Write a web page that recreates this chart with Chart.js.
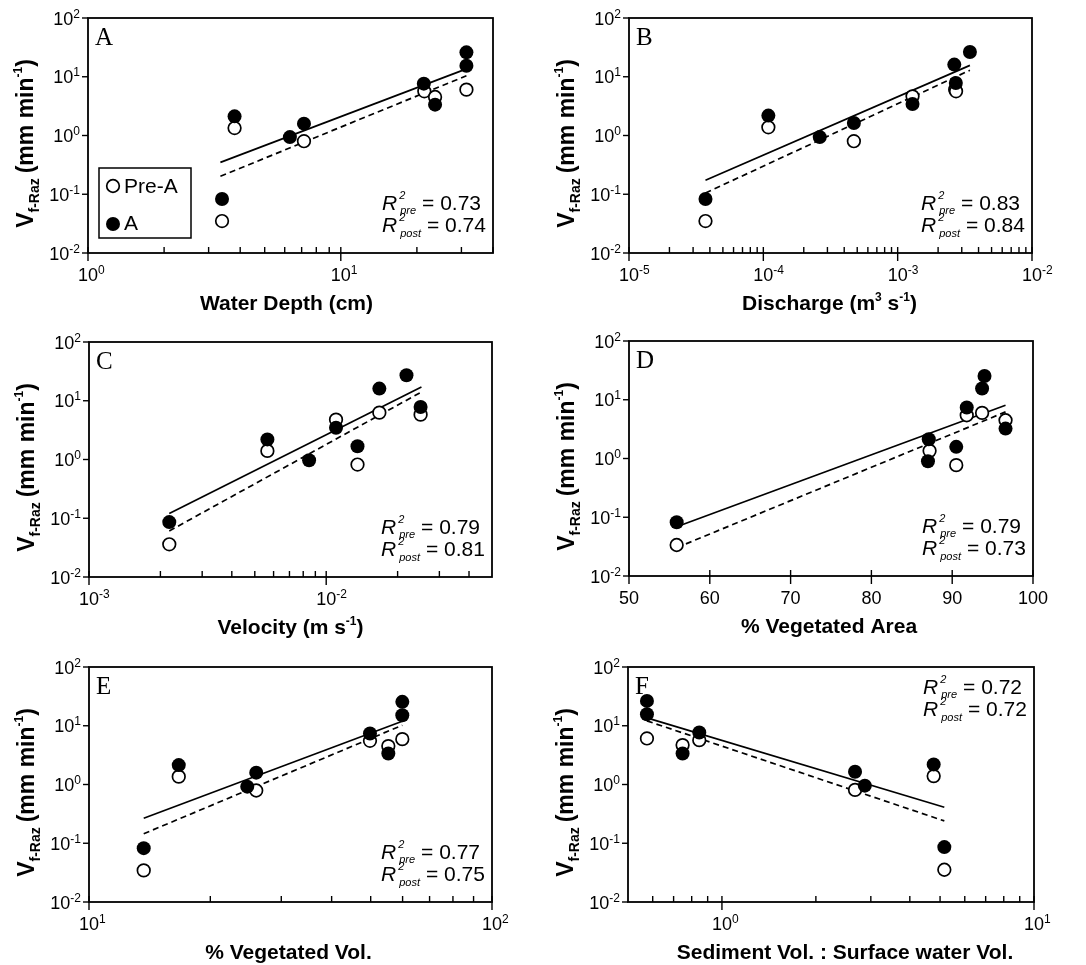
<!DOCTYPE html>
<html><head><meta charset="utf-8">
<script src="https://cdn.jsdelivr.net/npm/chart.js@4.4.1/dist/chart.umd.min.js"></script>
<style>
html,body{margin:0;padding:0;background:#fff;}
#wrap{position:relative;width:1086px;height:965px;overflow:hidden;background:#fff;}
#wrap canvas{position:absolute;}
</style></head><body><div id="wrap">
<canvas id="cA" width="543" height="320" style="left:0px;top:0px"></canvas>
<canvas id="cB" width="543" height="320" style="left:543px;top:0px"></canvas>
<canvas id="cC" width="543" height="320" style="left:0px;top:320px"></canvas>
<canvas id="cD" width="543" height="320" style="left:543px;top:320px"></canvas>
<canvas id="cE" width="543" height="325" style="left:0px;top:640px"></canvas>
<canvas id="cF" width="543" height="325" style="left:543px;top:640px"></canvas>
</div>
<script>
// ---------------- DATA ----------------
// Y axis (all panels): V f-Raz (mm/min)
const yTicks = [0.01, 0.1, 1, 10, 100];
const yTickExp = ['-2', '-1', '0', '1', '2'];

// Panel A: Water depth (cm)
const A_postX = [3.39, 3.80, 6.29, 7.15, 21.3, 23.6, 31.4, 31.4];
const A_postY = [0.083, 2.12, 0.94, 1.59, 7.63, 3.35, 15.4, 26.0];
const A_preX = [3.39, 3.80, 7.15, 21.4, 23.6, 31.4];
const A_preY = [0.035, 1.34, 0.80, 5.65, 4.52, 6.03];
const A_fitX = [3.34, 31.4];
const A_postFitY = [0.349, 13.6];
const A_preFitY = [0.202, 10.4];
const A_xTicks = [1, 10];
const A_xTickExp = ['0', '1'];
const A_xMinor = [2, 3, 4, 5, 6, 7, 8, 9, 20, 30, 40];
const A_r2 = ['0.73', '0.74'];

// Panel B: Discharge (m3/s)
const B_postX = [3.71e-5, 1.09e-4, 2.63e-4, 4.72e-4, 1.29e-3, 2.64e-3, 2.71e-3, 3.45e-3];
const B_postY = [0.083, 2.18, 0.94, 1.63, 3.44, 16.1, 7.83, 26.4];
const B_preX = [3.71e-5, 1.09e-4, 4.72e-4, 1.29e-3, 2.68e-3, 2.72e-3];
const B_preY = [0.035, 1.38, 0.80, 4.64, 6.03, 5.65];
const B_fitX = [3.71e-5, 3.45e-3];
const B_postFitY = [0.173, 15.6];
const B_preFitY = [0.105, 12.9];
const B_xTicks = [1e-5, 1e-4, 1e-3, 1e-2];
const B_xTickExp = ['-5', '-4', '-3', '-2'];
const B_xMinor = [2e-5,3e-5,4e-5,5e-5,6e-5,7e-5,8e-5,9e-5,2e-4,3e-4,4e-4,5e-4,6e-4,7e-4,8e-4,9e-4,2e-3,3e-3,4e-3,5e-3,6e-3,7e-3,8e-3,9e-3];
const B_r2 = ['0.83', '0.84'];

// Panel C: Velocity (m/s)
const C_postX = [2.18e-3, 5.65e-3, 8.47e-3, 1.10e-2, 1.355e-2, 1.675e-2, 2.18e-2, 2.50e-2];
const C_postY = [0.086, 2.20, 0.97, 3.48, 1.68, 16.1, 27.1, 7.83];
const C_preX = [2.18e-3, 5.65e-3, 1.10e-2, 1.355e-2, 1.675e-2, 2.50e-2];
const C_preY = [0.036, 1.40, 4.77, 0.82, 6.27, 5.80];
const C_fitX = [2.18e-3, 2.52e-2];
const C_postFitY = [0.120, 17.1];
const C_preFitY = [0.0607, 14.1];
const C_xTicks = [1e-3, 1e-2];
const C_xTickExp = ['-3', '-2'];
const C_xMinor = [2e-3,3e-3,4e-3,5e-3,6e-3,7e-3,8e-3,9e-3,2e-2,3e-2,4e-2];
const C_r2 = ['0.79', '0.81'];

// Panel D: % vegetated area
const D_postX = [55.9, 87.1, 87.0, 90.5, 91.8, 93.7, 94.0, 96.6];
const D_postY = [0.082, 2.13, 0.90, 1.58, 7.36, 15.5, 25.4, 3.23];
const D_preX = [55.9, 87.2, 90.5, 91.8, 93.7, 96.6];
const D_preY = [0.0337, 1.35, 0.77, 5.45, 5.97, 4.48];
const D_fitX = [55.9, 96.6];
const D_postFitY = [0.069, 8.07];
const D_preFitY = [0.0303, 6.21];
const D_xTicks = [50, 60, 70, 80, 90, 100];
const D_xTickLabels = ['50', '60', '70', '80', '90', '100'];
const D_r2 = ['0.79', '0.73'];

// Panel E: % vegetated volume
const E_postX = [13.67, 16.7, 24.7, 26.0, 49.8, 55.3, 59.9, 59.9];
const E_postY = [0.0826, 2.14, 0.92, 1.59, 7.39, 3.38, 15.1, 25.5];
const E_preX = [13.67, 16.7, 26.0, 49.8, 55.3, 59.9];
const E_preY = [0.0345, 1.36, 0.79, 5.55, 4.50, 5.92];
const E_fitX = [13.67, 59.9];
const E_postFitY = [0.267, 11.9];
const E_preFitY = [0.145, 10.2];
const E_xTicks = [10, 100];
const E_xTickExp = ['1', '2'];
const E_xMinor = [20, 30, 40, 50, 60, 70, 80, 90];
const E_r2 = ['0.77', '0.75'];

// Panel F: Sediment vol. : surface water vol.
const F_postX = [0.575, 0.575, 0.748, 0.846, 2.67, 2.87, 4.77, 5.16];
const F_postY = [26.5, 15.7, 3.38, 7.68, 1.65, 0.955, 2.20, 0.086];
const F_preX = [0.575, 0.748, 0.846, 2.67, 4.77, 5.16];
const F_preY = [6.08, 4.68, 5.69, 0.81, 1.39, 0.0354];
const F_fitX = [0.575, 5.16];
const F_postFitY = [13.6, 0.41];
const F_preFitY = [12.1, 0.24];
const F_xTicks = [1, 10];
const F_xTickExp = ['0', '1'];
const F_xMinor = [0.6, 0.7, 0.8, 0.9, 2, 3, 4, 5, 6, 7, 8, 9];
const F_r2 = ['0.72', '0.72'];

const legendLabels = ['Pre-A', 'A'];

// ---------------- DRAWING ----------------
const FONT = '"Liberation Sans", Arial, Helvetica, sans-serif';
const SERIF = '"Liberation Serif", "Times New Roman", Times, serif';
const TICK = '18px ' + FONT;
const EXP = '12px ' + FONT;
const XT = 'bold 21px ' + FONT;
const XS = 'bold 12px ' + FONT;

function partWidth(ctx, p) {
  if (p.stack) {
    let m = 0;
    for (const s of p.stack) { ctx.font = s.font; m = Math.max(m, ctx.measureText(s.t).width + (s.dx || 0)); }
    return m + (p.gap || 0);
  }
  ctx.font = p.font;
  return ctx.measureText(p.t).width + (p.gap || 0);
}
function drawRich(ctx, parts, x, y, align) {
  const w = parts.reduce((s, p) => s + partWidth(ctx, p), 0);
  let cx = align === 'center' ? x - w / 2 : align === 'right' ? x - w : x;
  for (const p of parts) {
    const pw = partWidth(ctx, p);
    if (p.stack) {
      for (const s of p.stack) { ctx.font = s.font; ctx.fillText(s.t, cx + (s.dx || 0), y + (s.dy || 0)); }
    } else {
      ctx.font = p.font; ctx.fillText(p.t, cx, y + (p.dy || 0));
    }
    cx += pw;
  }
  return w;
}
function seg(ctx, x1, y1, x2, y2) { ctx.beginPath(); ctx.moveTo(x1, y1); ctx.lineTo(x2, y2); ctx.stroke(); }

function makeDeco(p) {
  return {
    id: 'deco' + p.letter,
    afterDraw(chart) {
      const ctx = chart.ctx, a = chart.chartArea, xs = chart.scales.x, ys = chart.scales.y;
      ctx.save();
      ctx.fillStyle = '#000'; ctx.strokeStyle = '#000';
      ctx.textAlign = 'left'; ctx.textBaseline = 'alphabetic';
      ctx.setLineDash([]);
      // frame
      ctx.lineWidth = 1.8;
      ctx.strokeRect(a.left, a.top, a.right - a.left, a.bottom - a.top);
      ctx.lineWidth = 1.4;
      // y ticks + labels
      yTicks.forEach((v, i) => {
        const y = ys.getPixelForValue(v);
        seg(ctx, a.left - 6, y, a.left, y);
        drawRich(ctx, [{ t: '10', font: TICK }, { t: yTickExp[i], font: EXP, dy: -7 }], a.left - 8, y + 6.5, 'right');
      });
      // x major ticks + labels
      p.xMajor.forEach((v, i) => {
        const x = xs.getPixelForValue(v);
        seg(ctx, x, a.bottom - 6, x, a.bottom + 8);
        if (p.xLabels) {
          ctx.font = TICK; ctx.textAlign = 'center';
          ctx.fillText(p.xLabels[i], x, a.bottom + 28);
          ctx.textAlign = 'left';
        } else {
          ctx.font = TICK;
          const w = ctx.measureText('10').width;
          drawRich(ctx, [{ t: '10', font: TICK }, { t: p.xExp[i], font: EXP, dy: -7 }], x - w / 2, a.bottom + 28, 'left');
        }
      });
      // x minor ticks (inward)
      (p.xMinor || []).forEach(v => {
        const x = xs.getPixelForValue(v);
        seg(ctx, x, a.bottom - 6, x, a.bottom);
      });
      // x title
      drawRich(ctx, p.xTitle, (a.left + a.right) / 2 + (p.titleShift || 0), a.bottom + 57, 'center');
      // y title (rotated)
      ctx.save();
      ctx.translate(a.left - 55, (a.top + a.bottom) / 2 + 8);
      ctx.rotate(-Math.PI / 2);
      drawRich(ctx, [
        { t: 'V', font: 'bold 23px ' + FONT },
        { t: 'f-Raz', font: 'bold 14px ' + FONT, dy: 6, gap: 5 },
        { t: '(mm min', font: 'bold 23px ' + FONT },
        { t: '-1', font: 'bold 12px ' + FONT, dy: -11 },
        { t: ')', font: 'bold 23px ' + FONT }
      ], 0, 0, 'center');
      ctx.restore();
      // panel letter
      ctx.font = '25px ' + SERIF;
      ctx.fillText(p.letter, a.left + 7, a.top + 27);
      // R^2 text
      const rx = a.right - 111;
      const b1 = p.r2Top ? a.top + 27 : a.bottom - 43;
      const b2 = b1 + 22;
      const it = 'italic 11px ' + FONT;
      drawRich(ctx, [
        { t: 'R', font: 'italic 21px ' + FONT },
        { stack: [{ t: '2', font: it, dy: -11, dx: 2 }, { t: 'pre', font: it, dy: 4, dx: 3 }], gap: 6 },
        { t: '= ' + p.r2[0], font: '21px ' + FONT }
      ], rx, b1, 'left');
      drawRich(ctx, [
        { t: 'R', font: 'italic 21px ' + FONT },
        { stack: [{ t: '2', font: it, dy: -11, dx: 2 }, { t: 'post', font: it, dy: 5, dx: 3 }], gap: 6 },
        { t: '= ' + p.r2[1], font: '21px ' + FONT }
      ], rx, b2, 'left');
      // legend (panel A)
      if (p.legend) {
        const lx = a.left + 11, ly = a.top + 150;
        ctx.lineWidth = 1.5;
        ctx.strokeRect(lx, ly, 92, 70);
        ctx.lineWidth = 1.7;
        ctx.beginPath(); ctx.arc(lx + 14, ly + 18, 6.3, 0, Math.PI * 2);
        ctx.fillStyle = '#fff'; ctx.fill(); ctx.stroke();
        ctx.fillStyle = '#000';
        ctx.beginPath(); ctx.arc(lx + 14, ly + 56, 7, 0, Math.PI * 2); ctx.fill();
        ctx.font = '21px ' + FONT;
        ctx.fillText(legendLabels[0], lx + 25, ly + 25);
        ctx.fillText(legendLabels[1], lx + 25, ly + 62);
      }
      ctx.restore();
    }
  };
}

function pts(xs, ys) { return xs.map((x, i) => ({ x: x, y: ys[i] })); }

function makePanel(p) {
  new Chart(document.getElementById(p.id), {
    type: 'scatter',
    data: {
      datasets: [
        { label: 'A', data: pts(p.postX, p.postY), order: 0, showLine: false,
          pointRadius: 7, pointBackgroundColor: '#000', pointBorderColor: '#000', pointBorderWidth: 0 },
        { label: 'Pre-A', data: pts(p.preX, p.preY), order: 1, showLine: false,
          pointRadius: 6.3, pointBackgroundColor: '#fff', pointBorderColor: '#000', pointBorderWidth: 1.7 },
        { label: 'fit A', data: pts(p.fitX, p.postFit), order: 2, showLine: true,
          borderColor: '#000', borderWidth: 1.7, pointRadius: 0, fill: false },
        { label: 'fit Pre-A', data: pts(p.fitX, p.preFit), order: 3, showLine: true,
          borderColor: '#000', borderWidth: 1.7, borderDash: [6, 4], pointRadius: 0, fill: false }
      ]
    },
    options: {
      responsive: false, animation: false, events: [],
      layout: { padding: p.pad },
      scales: {
        x: { type: p.xType, min: p.xMin, max: p.xMax, display: false },
        y: { type: 'logarithmic', min: 0.01, max: 100, display: false }
      },
      plugins: { legend: { display: false }, tooltip: { enabled: false } }
    },
    plugins: [makeDeco(p)]
  });
}

const sup = (t) => ({ t: t, font: XS, dy: -9 });

makePanel({ id: 'cA', letter: 'A', pad: { left: 88, top: 18, right: 50, bottom: 67 },
  xType: 'logarithmic', xMin: 1, xMax: 40, xMajor: A_xTicks, xExp: A_xTickExp, xMinor: A_xMinor,
  postX: A_postX, postY: A_postY, preX: A_preX, preY: A_preY, fitX: A_fitX, postFit: A_postFitY, preFit: A_preFitY,
  r2: A_r2, legend: true, titleShift: -4,
  xTitle: [{ t: 'Water Depth (cm)', font: XT }] });

makePanel({ id: 'cB', letter: 'B', pad: { left: 86, top: 18, right: 54, bottom: 67 },
  xType: 'logarithmic', xMin: 1e-5, xMax: 1e-2, xMajor: B_xTicks, xExp: B_xTickExp, xMinor: B_xMinor,
  postX: B_postX, postY: B_postY, preX: B_preX, preY: B_preY, fitX: B_fitX, postFit: B_postFitY, preFit: B_preFitY,
  r2: B_r2, titleShift: -1,
  xTitle: [{ t: 'Discharge (m', font: XT }, sup('3'), { t: ' s', font: XT }, sup('-1'), { t: ')', font: XT }] });

makePanel({ id: 'cC', letter: 'C', pad: { left: 89, top: 22, right: 51, bottom: 63 },
  xType: 'logarithmic', xMin: 1e-3, xMax: 5e-2, xMajor: C_xTicks, xExp: C_xTickExp, xMinor: C_xMinor,
  postX: C_postX, postY: C_postY, preX: C_preX, preY: C_preY, fitX: C_fitX, postFit: C_postFitY, preFit: C_preFitY,
  r2: C_r2, titleShift: 0,
  xTitle: [{ t: 'Velocity (m s', font: XT }, sup('-1'), { t: ')', font: XT }] });

makePanel({ id: 'cD', letter: 'D', pad: { left: 86, top: 21, right: 53, bottom: 64 },
  xType: 'linear', xMin: 50, xMax: 100, xMajor: D_xTicks, xLabels: D_xTickLabels, xMinor: [],
  postX: D_postX, postY: D_postY, preX: D_preX, preY: D_preY, fitX: D_fitX, postFit: D_postFitY, preFit: D_preFitY,
  r2: D_r2, titleShift: -2,
  xTitle: [{ t: '% Vegetated Area', font: XT }] });

makePanel({ id: 'cE', letter: 'E', pad: { left: 89, top: 27, right: 51, bottom: 63 },
  xType: 'logarithmic', xMin: 10, xMax: 100, xMajor: E_xTicks, xExp: E_xTickExp, xMinor: E_xMinor,
  postX: E_postX, postY: E_postY, preX: E_preX, preY: E_preY, fitX: E_fitX, postFit: E_postFitY, preFit: E_preFitY,
  r2: E_r2, titleShift: -2,
  xTitle: [{ t: '% Vegetated Vol.', font: XT }] });

makePanel({ id: 'cF', letter: 'F', pad: { left: 85, top: 27, right: 52, bottom: 63 },
  xType: 'logarithmic', xMin: 0.5, xMax: 10, xMajor: F_xTicks, xExp: F_xTickExp, xMinor: F_xMinor,
  postX: F_postX, postY: F_postY, preX: F_preX, preY: F_preY, fitX: F_fitX, postFit: F_postFitY, preFit: F_preFitY,
  r2: F_r2, r2Top: true, titleShift: 14,
  xTitle: [{ t: 'Sediment Vol. : Surface water Vol.', font: XT }] });
</script>
</body></html>
